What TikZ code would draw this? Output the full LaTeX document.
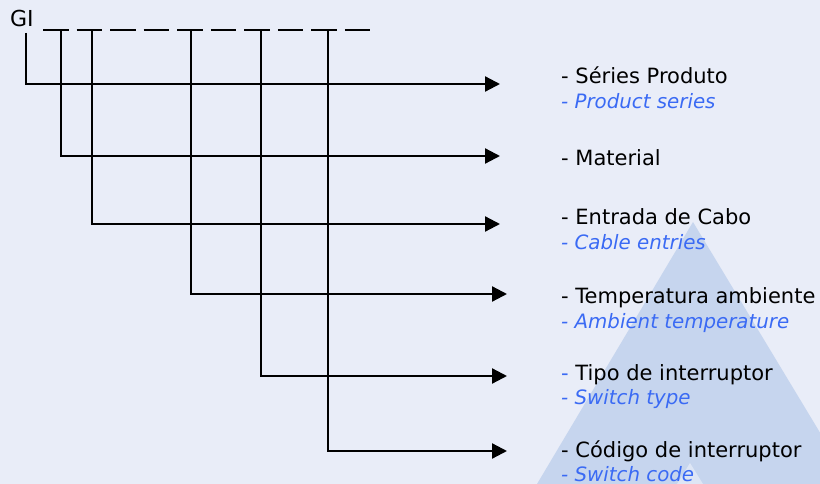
\documentclass[tikz,border=0pt]{standalone}
\usepackage{fontspec}
\setmainfont{DejaVu Sans}
\usetikzlibrary{arrows.meta}
\definecolor{bgcol}{HTML}{E9EDF8}
\definecolor{logocol}{HTML}{C6D5EE}
\definecolor{logoinner}{HTML}{DEE6F5}
\definecolor{engblue}{HTML}{3A6AF4}
\tikzset{
  conn/.style={line width=2.3pt, -{Triangle[length=15pt,width=15pt]}},
  codeline/.style={line width=1.5pt},
  pt/.style={anchor=base west, inner sep=0pt, font=\fontsize{21}{24}\selectfont},
  en/.style={anchor=base west, inner sep=0pt, text=engblue, font=\itshape\fontsize{19.8}{22}\selectfont},
}
\begin{document}
\begin{tikzpicture}[x=1pt,y=-1pt]
  % canvas
  \fill[bgcol] (0,0) rectangle (820,484);
  \useasboundingbox (0,0) rectangle (820,484);
  % pale triangle mark in the background
  \fill[logocol] (693,222) -- (537,484) -- (851,484) -- cycle;
  \fill[logoinner] (690,463) -- (677,484) -- (703,484) -- cycle;

  % code header
  \node[anchor=base west, inner sep=0pt, font=\fontsize{22}{24}\selectfont] (gi) at (10,27) {GI};
  \foreach \i in {0,...,9} {
    \draw[codeline] ({43+33.55*\i},30) -- ({68.5+33.55*\i},30);
  }

  % branch starts and arrow ends
  \coordinate (s1) at (26,33);
  \coordinate (s2) at (61,30);
  \coordinate (s3) at (92,30);
  \coordinate (s4) at (191,30);
  \coordinate (s5) at (261,30);
  \coordinate (s6) at (328,30);
  \coordinate (e1) at (500,84);
  \coordinate (e2) at (500,156);
  \coordinate (e3) at (500,224);
  \coordinate (e4) at (507,294);
  \coordinate (e5) at (507,376);
  \coordinate (e6) at (507,451);
  \foreach \k in {1,...,6} {
    \draw[conn] (s\k) |- (e\k);
  }

  % descriptions
  \node[pt] (t1) at (561,84) {- Séries Produto};
  \node[en] (u1) at (561,109) {- Product series};
  \node[pt] (t2) at (561,166) {- Material};
  \node[pt] (t3) at (561,225) {- Entrada de Cabo};
  \node[en] (u3) at (561,250) {- Cable entries};
  \node[pt] (t4) at (561,303) {- Temperatura ambiente};
  \node[en] (u4) at (561,328) {- Ambient temperature};
  \node[pt] (t5) at (561,380) {\textcolor{engblue}{-} Tipo de interruptor};
  \node[en] (u5) at (561,404) {- Switch type};
  \node[pt] (t6) at (561,457) {- Código de interruptor};
  \node[en] (u6) at (561,481) {- Switch code};
\end{tikzpicture}
\end{document}
